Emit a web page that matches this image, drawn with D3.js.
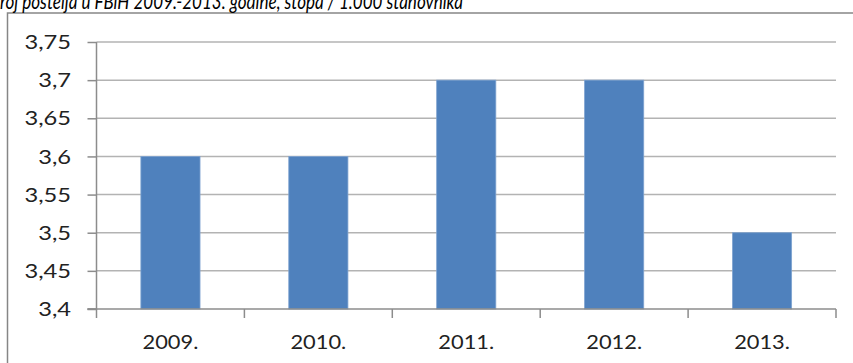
<!DOCTYPE html>
<html><head><meta charset="utf-8">
<script src="https://cdn.jsdelivr.net/npm/d3@7"></script>
<style>
html,body{margin:0;padding:0;background:#fff;overflow:hidden;}
svg{display:block;}
</style></head>
<body>
<svg id="c" width="853" height="363"></svg>
<script>
const categories = ["2009.", "2010.", "2011.", "2012.", "2013."];
const values = [3.6, 3.6, 3.7, 3.7, 3.5];
const yTicks = [3.4, 3.45, 3.5, 3.55, 3.6, 3.65, 3.7, 3.75];
const title = "Broj postelja u FBiH 2009.-2013. godine, stopa / 1.000 stanovnika";

const svg = d3.select("#c");
const font = "Lato, 'Open Sans', sans-serif";

// outer frame
svg.append("rect").attr("x", 7.5).attr("y", 13).attr("width", 900).attr("height", 400)
  .attr("fill", "none").attr("stroke", "#868686").attr("stroke-width", 1.5);

// title (partly cut at the top/left as in the reference)
const t = svg.append("text").attr("y", 8.5).attr("font-family", font)
  .attr("font-style", "italic").attr("font-size", 22).attr("fill", "#000").text(title);
{
  const node = t.node();
  const full = node.getComputedTextLength();
  const bW = node.getSubStringLength(0, 1);
  const rest = full - bW;
  const targetRest = 463;
  const k = targetRest / rest;
  const target = full * k;
  t.attr("x", targetRest - target).attr("textLength", target).attr("lengthAdjust", "spacingAndGlyphs");
}

const pLeft = 96.5, pRight = 836, pTop = 42, pBottom = 309;
const x = d3.scaleBand().domain(categories).range([pLeft, pRight]).paddingInner(0.6).paddingOuter(0.3);
const y = d3.scaleLinear().domain([3.4, 3.75]).range([pBottom, pTop]);

// gridlines
svg.append("g").selectAll("line").data(yTicks.slice(1)).join("line")
  .attr("x1", pLeft).attr("x2", pRight)
  .attr("y1", d => y(d)).attr("y2", d => y(d))
  .attr("stroke", "#b3b3b3").attr("stroke-width", 1.5);

// bars
svg.append("g").selectAll("rect").data(values).join("rect")
  .attr("x", (d, i) => x(categories[i]))
  .attr("y", d => y(d))
  .attr("width", x.bandwidth())
  .attr("height", d => y(3.4) - y(d))
  .attr("fill", "#4f81bd")
  .attr("stroke", "#7fa3d0").attr("stroke-width", 0.8);

// y axis
const yAxis = d3.axisLeft(y).tickValues(yTicks).tickSize(9).tickPadding(16)
  .tickFormat(d => String(d).replace(".", ","));
const gy = svg.append("g").attr("transform", `translate(${pLeft},0)`).call(yAxis);
gy.select(".domain").attr("stroke", "#8c8c8c").attr("stroke-width", 1.5).attr("d", `M-9,${pBottom}H0V${pTop}`);
gy.selectAll(".tick line").attr("stroke", "#8c8c8c").attr("stroke-width", 1.5);
gy.selectAll(".tick text").attr("font-family", font).attr("font-size", 18.5).attr("fill", "#222")
  .attr("x", 71 - pLeft).attr("dy", "0.36em")
  .each(function () {
    const w = this.getComputedTextLength();
    this.setAttribute("textLength", w * 1.28);
    this.setAttribute("lengthAdjust", "spacingAndGlyphs");
  });

// x axis
const gx = svg.append("g").attr("transform", `translate(0,${pBottom})`);
gx.append("line").attr("x1", pLeft - 9).attr("x2", pRight).attr("y1", 0).attr("y2", 0)
  .attr("stroke", "#8c8c8c").attr("stroke-width", 1.5);
const bounds = categories.map(c => x(c) - x.step() * x.paddingInner() / 2);
bounds[0] = pLeft;
bounds.push(pRight);
gx.selectAll("line.tk").data(bounds).join("line").attr("class", "tk")
  .attr("x1", d => d).attr("x2", d => d).attr("y1", 0).attr("y2", 9)
  .attr("stroke", "#8c8c8c").attr("stroke-width", 1.5);
gx.selectAll("text").data(categories).join("text")
  .attr("x", d => x(d) + x.bandwidth() / 2).attr("y", 40)
  .attr("text-anchor", "middle").attr("font-family", font).attr("font-size", 18.5).attr("fill", "#222")
  .text(d => d)
  .each(function () {
    const w = this.getComputedTextLength();
    this.setAttribute("textLength", w * 1.18);
    this.setAttribute("lengthAdjust", "spacingAndGlyphs");
  });
</script>
</body></html>
